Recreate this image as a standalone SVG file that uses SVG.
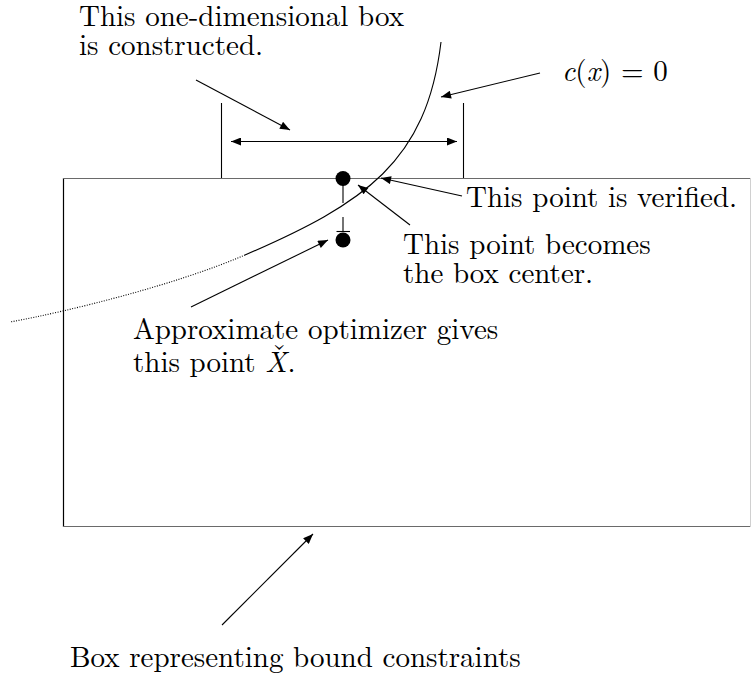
<svg xmlns="http://www.w3.org/2000/svg" width="751" height="687" viewBox="0 0 751 687">
<style>
.l{stroke:#000;stroke-width:1.1;fill:none}
</style>
<defs>
<marker id="ah" viewBox="0 0 10 8" refX="10" refY="4" markerWidth="11" markerHeight="8" markerUnits="userSpaceOnUse" orient="auto-start-reverse">
<path d="M0,0 L10,4 L0,8 Z" fill="#000"/>
</marker>
</defs>
<rect width="751" height="687" fill="#fff"/>
<g id="box">
<line x1="63.5" y1="178" x2="63.5" y2="527" stroke="#000" stroke-width="1.2"/>
<line x1="63" y1="178.5" x2="751" y2="178.5" stroke="#6a6a6a" stroke-width="1.1"/>
<line x1="63" y1="526.5" x2="751" y2="526.5" stroke="#6a6a6a" stroke-width="1.1"/>
<line x1="750.5" y1="178" x2="750.5" y2="527" stroke="#d0d0d0" stroke-width="1"/>
</g>
<g id="curve">
<path class="l" stroke-width="0.9" d="M441,42 C426.6,162 365,203 245,255"/>
<path class="l" stroke-width="0.9" stroke-dasharray="1 1.5" d="M245,255 C175,285 70,311 10,322"/>
</g>
<g id="dimension">
<line class="l" x1="221.5" y1="103" x2="221.5" y2="178"/>
<line class="l" x1="463.5" y1="103" x2="463.5" y2="178"/>
</g>
<g id="points">
<circle cx="343" cy="178.5" r="7.5" fill="#000"/>
<circle cx="343" cy="240" r="7.5" fill="#000"/>
<line class="l" x1="343" y1="178" x2="343" y2="203"/>
<line class="l" x1="343" y1="217" x2="343" y2="232"/>
<line class="l" x1="336.5" y1="231.5" x2="350" y2="231.5"/>
</g>
<g id="connectors">
<line class="l" x1="231" y1="141.5" x2="457" y2="141.5" marker-start="url(#ah)" marker-end="url(#ah)"/>
<line class="l" x1="196" y1="80" x2="290" y2="130" marker-end="url(#ah)"/>
<line class="l" x1="540" y1="73" x2="441" y2="97" marker-end="url(#ah)"/>
<line class="l" x1="462" y1="196" x2="381" y2="178" marker-end="url(#ah)"/>
<line class="l" x1="410" y1="225" x2="358" y2="185" marker-end="url(#ah)"/>
<line class="l" x1="191" y1="307" x2="328" y2="240" marker-end="url(#ah)"/>
<line class="l" x1="222" y1="625" x2="313" y2="534" marker-end="url(#ah)"/>
</g>
<g id="labels">
<text font-family="Latin Modern Roman, Liberation Serif, serif" font-size="29"><tspan x="79" y="26">This one-dimensional box</tspan><tspan x="79" y="55">is constructed.</tspan></text>
<text x="562" y="81" font-family="Latin Modern Roman, Liberation Serif, serif" font-size="29"><tspan font-style="italic">c</tspan>(<tspan font-style="italic">x</tspan>) = 0</text>
<text x="466" y="207" font-family="Latin Modern Roman, Liberation Serif, serif" font-size="29">This point is verified.</text>
<text font-family="Latin Modern Roman, Liberation Serif, serif" font-size="29"><tspan x="403" y="254">This point becomes</tspan><tspan x="403" y="283">the box center.</tspan></text>
<text font-family="Latin Modern Roman, Liberation Serif, serif" font-size="29"><tspan x="133" y="339">Approximate optimizer gives</tspan><tspan x="133" y="372">this point </tspan><tspan font-style="italic">X</tspan><tspan dx="-15" dy="-7.5">ˇ</tspan><tspan dx="1" dy="7.5">.</tspan></text>
<text x="70" y="667" font-family="Latin Modern Roman, Liberation Serif, serif" font-size="29">Box representing bound constraints</text>
</g>
</svg>
